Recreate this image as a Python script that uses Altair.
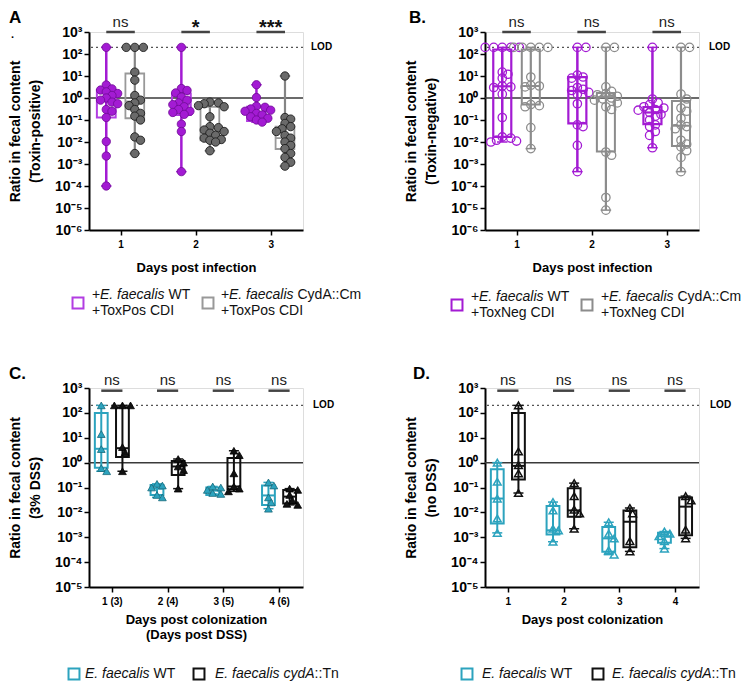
import altair as alt
import numpy as np
import pandas as pd

FONT = "Liberation Sans"
W = 214
H1 = 198
H2 = 199

# ---------------- Panel A (Toxin-positive) ----------------
A_days = [1, 2, 3]
A_sig = ["ns", "*", "***"]
A_wt_d1 = [200, 3.9, 2.6, 2.3, 1.9, 1.6, 1.3, 1.0, 0.8, 0.65, 0.55, 0.3, 0.25, 0.13, 0.0105, 0.0023, 0.0001]
A_wt_d2 = [200, 2.7, 2.2, 1.7, 1.1, 0.8, 0.6, 0.5, 0.4, 0.3, 0.25, 0.22, 0.18, 0.065, 0.03, 0.00045]
A_wt_d3 = [4.0, 1.05, 0.42, 0.38, 0.32, 0.28, 0.25, 0.2, 0.17, 0.14, 0.12, 0.1, 0.08]
A_mut_d1 = [200, 200, 200, 15, 6.5, 1.3, 0.8, 0.6, 0.45, 0.3, 0.2, 0.15, 0.1, 0.017, 0.012, 0.003]
A_mut_d2 = [0.65, 0.6, 0.55, 0.45, 0.4, 0.14, 0.05, 0.045, 0.035, 0.03, 0.025, 0.02, 0.015, 0.013, 0.012, 0.01, 0.004]
A_mut_d3 = [10, 0.13, 0.11, 0.07, 0.05, 0.04, 0.03, 0.02, 0.015, 0.01, 0.007, 0.005, 0.003, 0.002, 0.0012, 0.0008]
A_wt_q1 = [0.13, 0.17, 0.09]
A_wt_med = [0.8, 0.5, 0.22]
A_wt_q3 = [2.3, 1.6, 0.4]
A_mut_q1 = [0.12, 0.012, 0.0048]
A_mut_med = [0.7, 0.035, 0.015]
A_mut_q3 = [13, 0.4, 0.05]

# ---------------- Panel B (Toxin-negative) ----------------
B_days = [1, 2, 3]
B_sig = ["ns", "ns", "ns"]
B_wt_d1 = [200, 200, 200, 200, 200, 15, 12, 8, 3.5, 3.2, 3.0, 1.5, 0.13, 0.017, 0.015, 0.012, 0.011, 0.01]
B_wt_d2 = [200, 200, 11, 9, 8, 3.0, 2.5, 2.2, 1.8, 1.5, 0.55, 0.06, 0.05, 0.007, 0.00045]
B_wt_d3 = [200, 0.9, 0.6, 0.5, 0.4, 0.35, 0.3, 0.28, 0.22, 0.18, 0.15, 0.1, 0.06, 0.05, 0.03, 0.02, 0.0055]
B_mut_d1 = [200, 200, 200, 200, 200, 9, 3.8, 3.5, 3.2, 0.5, 0.45, 0.4, 0.045, 0.005]
B_mut_d2 = [200, 200, 3.2, 2.0, 1.6, 1.4, 1.2, 1.0, 0.9, 0.8, 0.6, 0.4, 0.3, 0.0035, 0.0025, 3e-5, 8e-6]
B_mut_d3 = [200, 200, 1.5, 0.9, 0.35, 0.25, 0.12, 0.06, 0.05, 0.04, 0.012, 0.008, 0.006, 0.004, 0.002, 0.00045]
B_wt_q1 = [0.017, 0.07, 0.065]
B_wt_med = [3.4, 2.1, 0.22]
B_wt_q3 = [160, 8.9, 0.39]
B_mut_q1 = [0.5, 0.0037, 0.0065]
B_mut_med = [3.5, 1.1, 0.055]
B_mut_q3 = [160, 1.7, 0.73]

# ---------------- Panel C (3% DSS) ----------------
C_days = [1, 2, 3, 4]
C_sig = ["ns", "ns", "ns", "ns"]
C_wt_d1 = [200, 14, 3.5, 0.6, 0.45]
C_wt_d2 = [0.14, 0.12, 0.1, 0.05, 0.04]
C_wt_d3 = [0.11, 0.1, 0.08, 0.06, 0.055]
C_wt_d4 = [0.16, 0.12, 0.04, 0.025, 0.014]
C_mut_d1 = [200, 200, 200, 4.2, 2.6, 0.45]
C_mut_d2 = [1.4, 1.0, 0.7, 0.5, 0.09]
C_mut_d3 = [3.0, 2.0, 0.37, 0.11, 0.09, 0.07]
C_mut_d4 = [0.09, 0.08, 0.05, 0.03, 0.022, 0.02]
C_wt_q1 = [0.62, 0.05, 0.05, 0.02]
C_wt_med = [3.6, 0.09, 0.075, 0.048]
C_wt_q3 = [100, 0.125, 0.1, 0.12]
C_mut_q1 = [1.7, 0.32, 0.085, 0.023]
C_mut_med = [3.8, 0.7, 0.11, 0.043]
C_mut_q3 = [170, 1.17, 1.55, 0.08]

# ---------------- Panel D (no DSS) ----------------
D_days = [1, 2, 3, 4]
D_sig = ["ns", "ns", "ns", "ns"]
D_wt_d1 = [1.0, 0.17, 0.036, 0.0057, 0.0015]
D_wt_d2 = [0.026, 0.012, 0.0022, 0.0019, 0.00066]
D_wt_d3 = [0.004, 0.0014, 0.0009, 0.0003, 0.0002]
D_wt_d4 = [0.0017, 0.0014, 0.0011, 0.0007, 0.00035]
D_mut_d1 = [200, 2.8, 0.8, 0.37, 0.06]
D_mut_d2 = [0.15, 0.045, 0.013, 0.009, 0.0022]
D_mut_d3 = [0.015, 0.009, 0.0007, 0.00027]
D_mut_d4 = [0.045, 0.03, 0.002, 0.0009]
D_wt_q1 = [0.0036, 0.0013, 0.00026, 0.0006]
D_wt_med = [0.036, 0.0019, 0.0009, 0.0011]
D_wt_q3 = [0.54, 0.018, 0.0026, 0.0015]
D_mut_q1 = [0.21, 0.0066, 0.0004, 0.0012]
D_mut_med = [0.74, 0.012, 0.0042, 0.017]
D_mut_q3 = [98, 0.093, 0.012, 0.04]

LOD = 200

PURPLE = "#A31BD3"
PURPLE_BOX = "#B23DE2"
GRAY_PT = "#6A6A6A"
GRAY_BOX = "#999999"
TEAL = "#2CA3BE"
BLACK = "#111111"

SUP = str.maketrans("-0123456789", "⁻⁰¹²³⁴⁵⁶⁷⁸⁹")


def ylabel_expr(lo, hi):
    parts = []
    for e in range(lo, hi):
        parts.append(f"datum.value < {10 ** (e + 0.5):.4g} ? '10{str(e).translate(SUP)}'")
    return " : ".join(parts) + f" : '10{str(hi).translate(SUP)}'"


def swarm(vals, ppu, ppd, diam, center):
    idx = sorted(range(len(vals)), key=lambda i: -vals[i])
    placed = []
    res = [0.0] * len(vals)
    step = diam * 0.3
    for i in idx:
        y = np.log10(vals[i]) * ppd
        k = 0
        while True:
            c = 0.0 if k == 0 else ((k + 1) // 2) * step * (1 if k % 2 else -1)
            if all((c - px) ** 2 + (y - py) ** 2 >= (diam * 0.62) ** 2 for px, py in placed):
                break
            k += 1
        placed.append((c, y))
        res[i] = center + c / ppu
    return res


def make_panel(days, groups, sig, ylo, yhi, xdom, H, ytitle, xtitle, xlabelexpr,
               letter, letter_x, legend, lod_x, sigbar_y, sig_dy, star_dy, box_half, cap_half,
               xtitle_pad, points_on_top=True, dot=False):
    ppu = W / (xdom[1] - xdom[0])
    ppd = H / (yhi - ylo)
    xscale = alt.Scale(domain=xdom, nice=False, zero=False)
    yscale = alt.Scale(type="log", domain=[10.0 ** ylo, 10.0 ** yhi], nice=False)
    xaxis = alt.Axis(values=days, title=xtitle, labelExpr=xlabelexpr, grid=False,
                     labelFontSize=10, labelFontWeight="bold", labelColor="black", labelPadding=4,
                     titleFontSize=13, titleFontWeight="bold", titleColor="black", titlePadding=xtitle_pad,
                     titleLineHeight=15,
                     tickSize=5, tickWidth=1.5, tickColor="black", domainColor="black", domainWidth=2)
    yaxis = alt.Axis(values=[10.0 ** e for e in range(ylo, yhi + 1)], labelExpr=ylabel_expr(ylo, yhi),
                     title=ytitle, grid=False, labelFontSize=14, labelFontWeight="bold", labelColor="black",
                     labelPadding=2, titleFontSize=14, titleFontWeight="bold", titleColor="black",
                     titlePadding=12, titleLineHeight=20,
                     tickSize=5, tickWidth=1.5, tickColor="black", domainColor="black", domainWidth=2)

    def X(f):
        return alt.X(f"{f}:Q", scale=xscale, axis=xaxis)

    def Y(f):
        return alt.Y(f"{f}:Q", scale=yscale, axis=yaxis)

    one = pd.DataFrame({"one": [1.0], "lod": [LOD]})
    layers = []
    layers.append(alt.Chart(one).mark_rule(color="#3a3a3a", strokeWidth=1.5).encode(y=Y("one")))
    layers.append(alt.Chart(one).mark_rule(color="#555555", strokeWidth=1.2, strokeDash=[2, 3]).encode(y=Y("lod")))
    layers.append(alt.Chart(one).mark_text(align="left", baseline="middle", fontSize=10, fontWeight="bold",
                                           color="black").encode(y=Y("lod"), x=alt.value(lod_x), text=alt.value("LOD")))

    sig_df = pd.DataFrame({"day": days, "label": sig,
                           "x1": [d - 0.19 for d in days], "x2": [d + 0.19 for d in days],
                           "top": [sigbar_y] * len(days)})
    layers.append(alt.Chart(sig_df).mark_rule(color="#444444", strokeWidth=2.5).encode(
        x=X("x1"), x2="x2", y=Y("top")))
    layers.append(alt.Chart(sig_df).transform_filter("datum.label == 'ns'").mark_text(
        fontSize=15, baseline="alphabetic", dy=sig_dy, color="#222222").encode(x=X("day"), y=Y("top"), text="label:N"))
    layers.append(alt.Chart(sig_df).transform_filter("datum.label != 'ns'").mark_text(
        fontSize=20, fontWeight="bold", baseline="alphabetic", dy=star_dy, color="#111111").encode(
        x=X("day"), y=Y("top"), text="label:N"))

    box_layers = []
    pt_layers = []
    for g in groups:
        prow, brow, crow = [], [], []
        for j, d in enumerate(days):
            vals = g["points"][j]
            c = d + g["off"]
            xs = swarm(vals, ppu, ppd, g["diam"], c)
            for v, xv in zip(vals, xs):
                prow.append({"value": v, "xpos": xv})
            brow.append({"xc": c, "x1": c - box_half, "x2": c + box_half, "q1": g["q1"][j], "med": g["med"][j],
                         "q3": g["q3"][j], "mn": min(vals), "mx": max(vals)})
            crow.append({"c1": c - cap_half, "c2": c + cap_half, "yv": min(vals)})
            crow.append({"c1": c - cap_half, "c2": c + cap_half, "yv": max(vals)})
        pdf, bdf, cdf = pd.DataFrame(prow), pd.DataFrame(brow), pd.DataFrame(crow)
        box_layers.append(alt.Chart(bdf).mark_rule(color=g["wcolor"], strokeWidth=g["wwidth"]).encode(
            x=X("xc"), y=Y("mn"), y2="mx"))
        box_layers.append(alt.Chart(bdf).mark_rect(filled=False, color=g["bcolor"], strokeWidth=g["bwidth"]).encode(
            x=X("x1"), x2="x2", y=Y("q1"), y2="q3"))
        box_layers.append(alt.Chart(bdf).mark_rule(color=g["bcolor"], strokeWidth=g["bwidth"]).encode(
            x=X("x1"), x2="x2", y=Y("med")))
        box_layers.append(alt.Chart(cdf).mark_rule(color=g["wcolor"], strokeWidth=1.5).encode(
            x=X("c1"), x2="c2", y=Y("yv")))
        pt_layers.append(alt.Chart(pdf).mark_point(**g["pt"]).encode(x=X("xpos"), y=Y("value")))

    if points_on_top:
        layers += box_layers + pt_layers
    else:
        layers += pt_layers + box_layers

    # panel letter
    lab = pd.DataFrame({"t": [letter]})
    layers.append(alt.Chart(lab).mark_text(align="left", baseline="top", fontSize=17, fontWeight="bold",
                                           color="black").encode(x=alt.value(letter_x), y=alt.value(-22), text="t:N"))
    if dot:
        layers.append(alt.Chart(lab).mark_text(align="left", baseline="middle", fontSize=11, fontWeight="bold",
                                               color="black").encode(x=alt.value(letter_x + 2), y=alt.value(3),
                                                                     text=alt.value(".")))
    # manual legend
    for item in legend:
        sq = pd.DataFrame({"k": [0]})
        layers.append(alt.Chart(sq).mark_point(shape="square", filled=False, size=120, strokeWidth=2,
                                               color=item["color"], opacity=1).encode(
            x=alt.value(item["sx"]), y=alt.value(item["sy"])))
        for (tx, ty, txt, ital, fs) in item["pieces"]:
            layers.append(alt.Chart(sq).mark_text(align="left", baseline="middle", fontSize=fs,
                                                  fontStyle="italic" if ital else "normal",
                                                  color="#111111").encode(
                x=alt.value(tx), y=alt.value(ty), text=alt.value(txt)))

    return alt.layer(*layers).properties(width=W, height=H)


def grp(points, q1, med, q3, off, pt, bcolor, bwidth, wcolor, wwidth, diam):
    return dict(points=points, q1=q1, med=med, q3=q3, off=off, pt=pt, bcolor=bcolor, bwidth=bwidth,
                wcolor=wcolor, wwidth=wwidth, diam=diam)


ptA_wt = dict(shape="circle", filled=True, size=70, fill=PURPLE, stroke="#6E0A96", strokeWidth=0.8, opacity=1)
ptA_mut = dict(shape="circle", filled=True, size=70, fill=GRAY_PT, stroke="#1E1E1E", strokeWidth=0.9, opacity=1)
ptB_wt = dict(shape="circle", filled=False, size=70, color=PURPLE, strokeWidth=1.3, opacity=1)
ptB_mut = dict(shape="circle", filled=False, size=70, color="#8C8C8C", strokeWidth=1.3, opacity=1)
ptC_wt = dict(shape="triangle-up", filled=True, size=60, fill=TEAL, stroke="#17687A", strokeWidth=0.8, opacity=1)
ptC_mut = dict(shape="triangle-up", filled=True, size=60, fill=BLACK, stroke="#000000", strokeWidth=0.8, opacity=1)
ptD_wt = dict(shape="triangle-up", filled=False, size=60, color=TEAL, strokeWidth=1.5, opacity=1)
ptD_mut = dict(shape="triangle-up", filled=False, size=60, color=BLACK, strokeWidth=1.5, opacity=1)

FS = 14
A = make_panel(
    A_days,
    [grp([A_wt_d1, A_wt_d2, A_wt_d3], A_wt_q1, A_wt_med, A_wt_q3, -0.19, ptA_wt, PURPLE_BOX, 2, PURPLE, 2.5, 9.5),
     grp([A_mut_d1, A_mut_d2, A_mut_d3], A_mut_q1, A_mut_med, A_mut_q3, 0.19, ptA_mut, GRAY_BOX, 1.8, "#858585", 2.2, 9.5)],
    A_sig, -6, 3, [0.58, 3.43], H1, ["Ratio in fecal content", "(Toxin-positive)"], "Days post infection",
    "datum.value", "A", -80,
    [dict(color=PURPLE_BOX, sx=-11, sy=271, pieces=[(3, 263, "+", False, FS), (11, 263, "E. faecalis", True, FS),
                                                   (79.5, 263, "WT", False, FS), (3, 279, "+ToxPos CDI", False, FS)]),
     dict(color=GRAY_BOX, sx=119, sy=271, pieces=[(132, 263, "+", False, FS), (140, 263, "E. faecalis", True, FS),
                                                  (208.5, 263, "CydA::Cm", False, FS), (132, 279, "+ToxPos CDI", False, FS)])],
    222, 1000, -5, 2, 0.125, 0.07, 12, points_on_top=True, dot=True)

B = make_panel(
    B_days,
    [grp([B_wt_d1, B_wt_d2, B_wt_d3], B_wt_q1, B_wt_med, B_wt_q3, -0.19, ptB_wt, PURPLE, 2.2, PURPLE, 2.5, 9.5),
     grp([B_mut_d1, B_mut_d2, B_mut_d3], B_mut_q1, B_mut_med, B_mut_q3, 0.19, ptB_mut, "#8C8C8C", 2, "#8C8C8C", 2.2, 9.5)],
    B_sig, -6, 3, [0.58, 3.43], H1, ["Ratio in fecal content", "(Toxin-negative)"], "Days post infection",
    "datum.value", "B.", -76,
    [dict(color=PURPLE, sx=-28, sy=273, pieces=[(-14, 265, "+", False, FS), (-6, 265, "E. faecalis", True, FS),
                                               (62.5, 265, "WT", False, FS), (-14, 281, "+ToxNeg CDI", False, FS)]),
     dict(color="#8C8C8C", sx=102, sy=273, pieces=[(116, 265, "+", False, FS), (124, 265, "E. faecalis", True, FS),
                                                   (192.5, 265, "CydA::Cm", False, FS), (116, 281, "+ToxNeg CDI", False, FS)])],
    224, 1000, -5, 2, 0.12, 0.07, 12, points_on_top=False)

C = make_panel(
    C_days,
    [grp([C_wt_d1, C_wt_d2, C_wt_d3, C_wt_d4], C_wt_q1, C_wt_med, C_wt_q3, -0.19, ptC_wt, TEAL, 2, TEAL, 2, 9),
     grp([C_mut_d1, C_mut_d2, C_mut_d3, C_mut_d4], C_mut_q1, C_mut_med, C_mut_q3, 0.19, ptC_mut, BLACK, 2, BLACK, 2, 9)],
    C_sig, -5, 3, [0.59, 4.43], H2, ["Ratio in fecal content", "(3% DSS)"],
    ["Days post colonization", "(Days post DSS)"], "datum.value + ' (' + (datum.value + 2) + ')'", "C.", -80,
    [dict(color=TEAL, sx=-15, sy=286, pieces=[(-4, 286, "E. faecalis", True, FS), (64.5, 286, "WT", False, FS)]),
     dict(color=BLACK, sx=110, sy=286, pieces=[(126, 286, "E. faecalis cydA", True, FS), (225.6, 286, "::Tn", False, FS)])],
    224, 780, -6, 2, 0.115, 0.09, 7, points_on_top=True)

D = make_panel(
    D_days,
    [grp([D_wt_d1, D_wt_d2, D_wt_d3, D_wt_d4], D_wt_q1, D_wt_med, D_wt_q3, -0.19, ptD_wt, TEAL, 2, TEAL, 2, 9),
     grp([D_mut_d1, D_mut_d2, D_mut_d3, D_mut_d4], D_mut_q1, D_mut_med, D_mut_q3, 0.19, ptD_mut, BLACK, 2, BLACK, 2, 9)],
    D_sig, -5, 3, [0.59, 4.43], H2, ["Ratio in fecal content", "(no DSS)"], "Days post colonization",
    "datum.value", "D.", -72,
    [dict(color=TEAL, sx=-18, sy=286, pieces=[(-3, 286, "E. faecalis", True, FS), (65.5, 286, "WT", False, FS)]),
     dict(color=BLACK, sx=113, sy=286, pieces=[(127, 286, "E. faecalis cydA", True, FS), (226.6, 286, "::Tn", False, FS)])],
    225, 780, -6, 2, 0.115, 0.09, 7, points_on_top=False)

chart = alt.concat(A, B, C, D, columns=2, spacing={"row": 158, "column": 182}, bounds="flush").properties(
    padding={"left": 0, "top": 0, "right": 0, "bottom": 0}
).configure_view(stroke=None).configure(font=FONT)

chart.save("out.html", embed_options={"renderer": "svg", "actions": False})
